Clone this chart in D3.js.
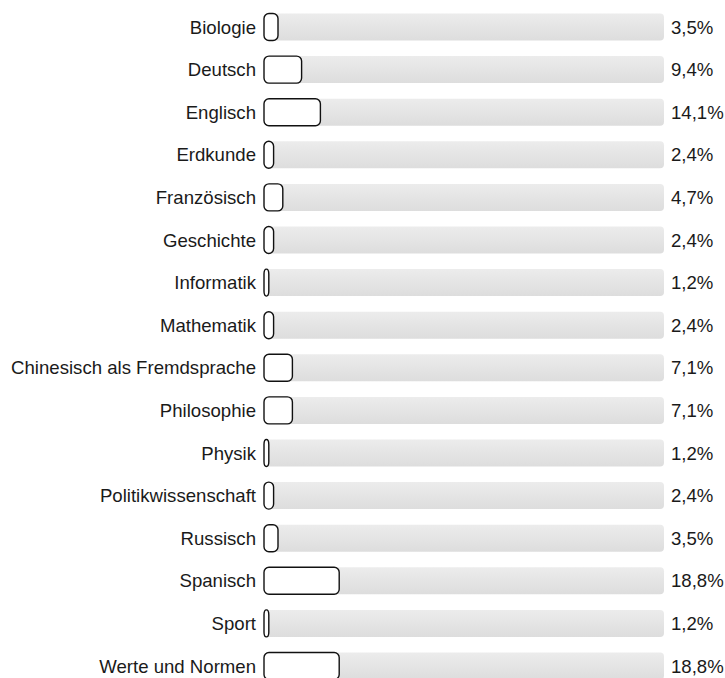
<!DOCTYPE html>
<html><head><meta charset="utf-8">
<script src="https://cdn.jsdelivr.net/npm/d3@7"></script>
<style>body{margin:0;background:#fff}svg{display:block}</style>
</head><body>
<script>
const categories = ["Biologie","Deutsch","Englisch","Erdkunde","Französisch","Geschichte","Informatik","Mathematik","Chinesisch als Fremdsprache","Philosophie","Physik","Politikwissenschaft","Russisch","Spanisch","Sport","Werte und Normen"];
const values = [3.5,9.4,14.1,2.4,4.7,2.4,1.2,2.4,7.1,7.1,1.2,2.4,3.5,18.8,1.2,18.8];
const valueLabels = ["3,5%","9,4%","14,1%","2,4%","4,7%","2,4%","1,2%","2,4%","7,1%","7,1%","1,2%","2,4%","3,5%","18,8%","1,2%","18,8%"];

const W = 725, H = 678;
const FONT = "'Liberation Sans', Arial, sans-serif";
const svg = d3.select("body").append("svg").attr("width", W).attr("height", H);
const defs = svg.append("defs");
const g = defs.append("linearGradient").attr("id","bg").attr("x1",0).attr("y1",0).attr("x2",0).attr("y2",1);
g.append("stop").attr("offset","0%").attr("stop-color","#ececec");
g.append("stop").attr("offset","100%").attr("stop-color","#dddddd");

const x = d3.scaleLinear().domain([0,100]).range([264,664]);
const step = 42.6;
const y = d3.scaleBand().domain(categories).range([5.7, 5.7 + step*16]).paddingInner(0.366).paddingOuter(0.183);

const rows = svg.selectAll("g.row").data(categories.map((c,i)=>({c, v: values[i], l: valueLabels[i]}))).join("g").attr("class","row");

rows.append("rect")
  .attr("x", x(0)).attr("y", d => y(d.c))
  .attr("width", x(100)-x(0)).attr("height", y.bandwidth())
  .attr("rx", 4).attr("fill", "url(#bg)");

rows.append("rect")
  .attr("x", x(0)).attr("y", d => y(d.c))
  .attr("width", d => x(d.v)-x(0)).attr("height", y.bandwidth())
  .attr("rx", d => Math.min(5, (x(d.v)-x(0))/2)).attr("ry", 5)
  .attr("fill", "#fff").attr("stroke", "#111").attr("stroke-width", 1.4);

rows.append("text")
  .attr("x", 256).attr("y", d => y(d.c) + y.bandwidth()/2)
  .attr("dy", "0.35em").attr("text-anchor", "end")
  .style("font-family", FONT).style("font-size", "18.6px").attr("fill", "#1a1a1a")
  .text(d => d.c);

rows.append("text")
  .attr("x", 671).attr("y", d => y(d.c) + y.bandwidth()/2)
  .attr("dy", "0.35em").attr("text-anchor", "start")
  .style("font-family", FONT).style("font-size", "18.6px").attr("fill", "#1a1a1a")
  .text(d => d.l);
</script>
</body></html>
